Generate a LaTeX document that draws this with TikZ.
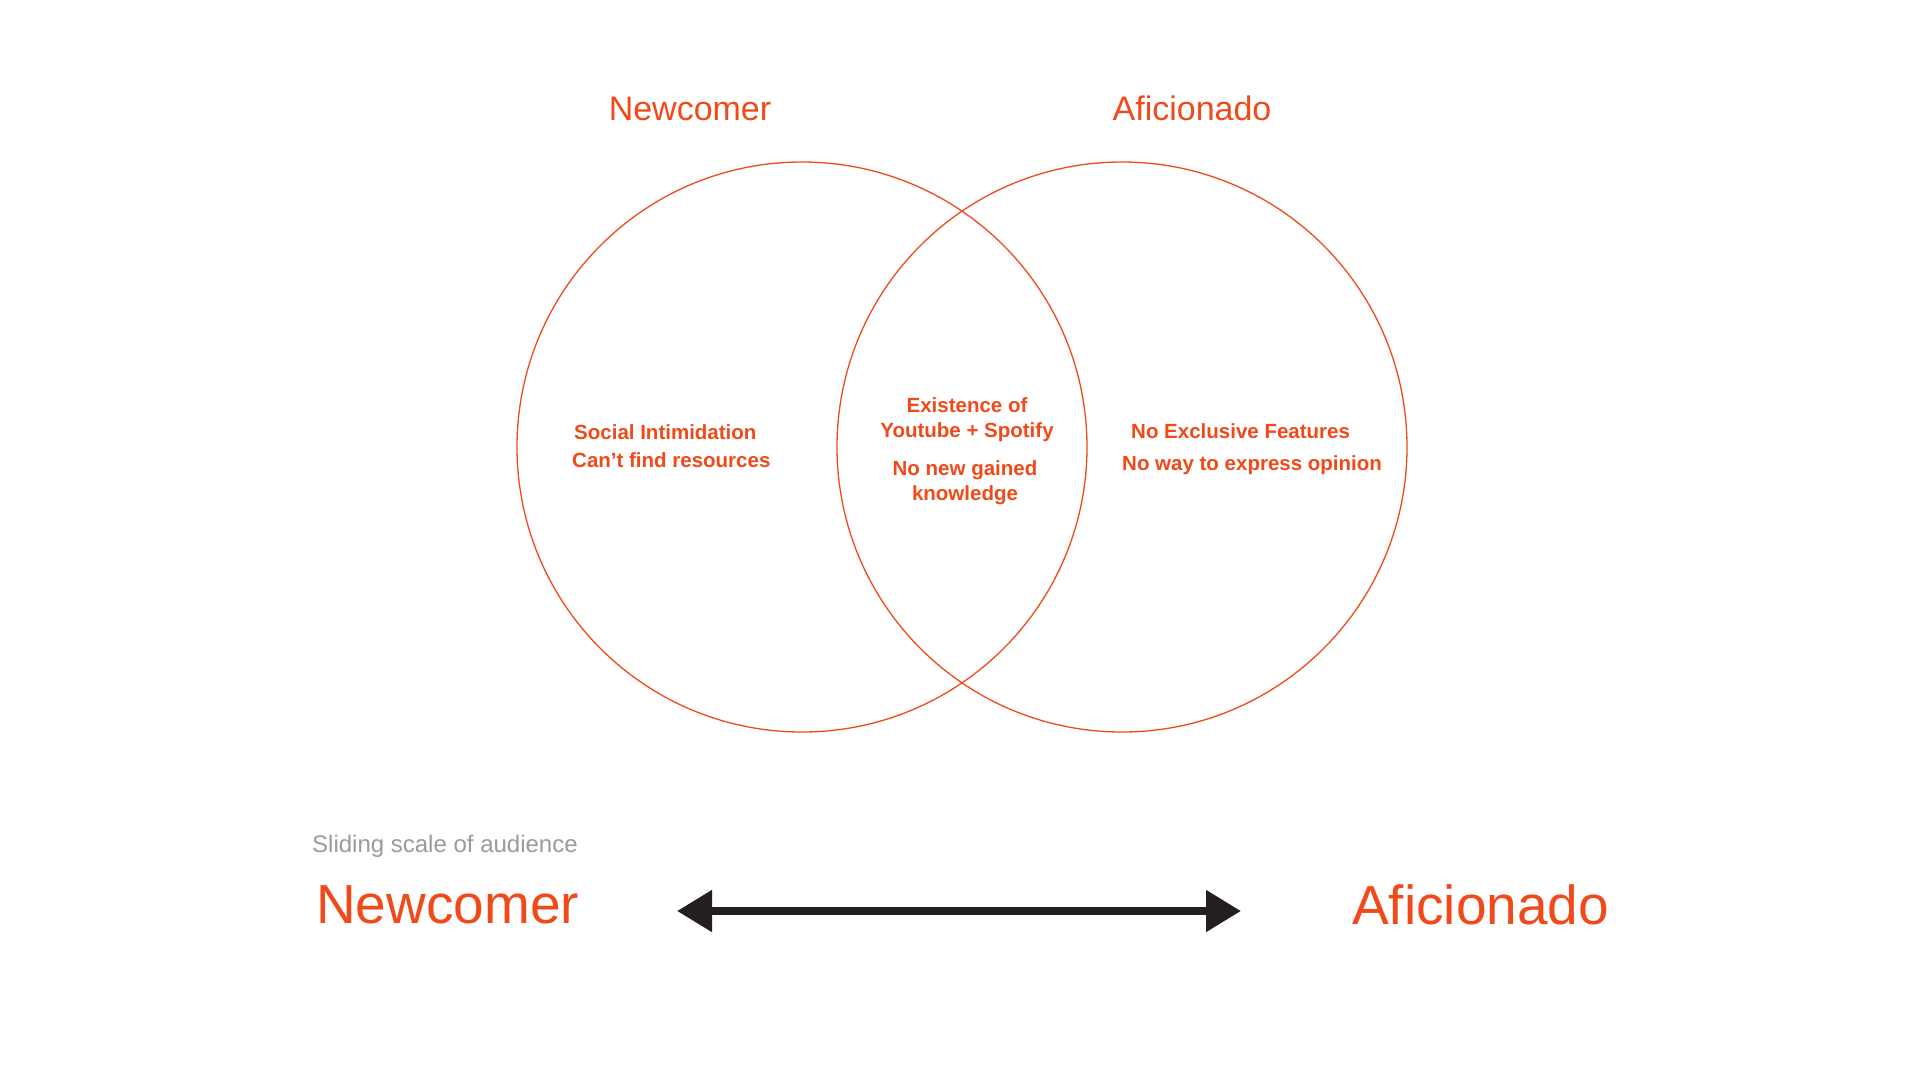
\documentclass[tikz,border=0pt]{standalone}
\usepackage{fontspec}
\setmainfont{Liberation Sans}
\usetikzlibrary{arrows.meta}
\definecolor{accent}{HTML}{F04A1A}
\definecolor{ink}{HTML}{231F20}
\definecolor{softgray}{HTML}{9B9B9B}
\begin{document}
\begin{tikzpicture}[x=1pt,y=-1pt,
  venn/.style={circle,draw=accent,line width=1.3pt,minimum size=570pt,inner sep=0pt},
  heading/.style={text=accent,font=\fontsize{34}{40}\selectfont,anchor=base,inner sep=0pt},
  point/.style={text=accent,font=\bfseries\fontsize{20.5}{24}\selectfont,inner sep=0pt},
  scalelabel/.style={text=accent,font=\fontsize{55}{64}\selectfont,anchor=base west,inner sep=0pt},
  caption/.style={text=softgray,font=\fontsize{24}{29}\selectfont,anchor=base west,inner sep=0pt},
  scalearrow/.style={draw=ink,line width=8pt,{Triangle[length=35pt,width=40pt]}-{Triangle[length=35pt,width=40pt]}}]
\useasboundingbox[fill=white] (0,0) rectangle (1920,1080);

% two overlapping sets
\node[venn] (setA) at (802,447) {};
\node[venn] (setB) at (1122,447) {};

% set titles
\node[heading] (titleA) at (690,120) {Newcomer};
\node[heading] (titleB) at (1192,120) {Aficionado};

% items only in the first set
\node[point,anchor=base west] (a1) at (574,439) {Social Intimidation};
\node[point,anchor=base west] (a2) at (572,467) {Can’t find resources};

% shared items
\node[point,anchor=base] (c1) at (967,412) {Existence of};
\node[point,anchor=base] (c2) at (967,437) {Youtube + Spotify};
\node[point,anchor=base] (c3) at (965,475) {No new gained};
\node[point,anchor=base] (c4) at (965,500) {knowledge};

% items only in the second set
\node[point,anchor=base west] (b1) at (1131,438) {No Exclusive Features};
\node[point,anchor=base west] (b2) at (1122,470) {No way to express opinion};

% audience scale
\node[caption] (cap) at (312,852) {Sliding scale of audience};
\node[scalelabel] (lowend) at (316,923) {Newcomer};
\node[scalelabel] (highend) at (1352,924) {Aficionado};
\coordinate (arrL) at (677,911);
\coordinate (arrR) at (1241,911);
\draw[scalearrow] (arrL) -- (arrR);
\end{tikzpicture}
\end{document}
